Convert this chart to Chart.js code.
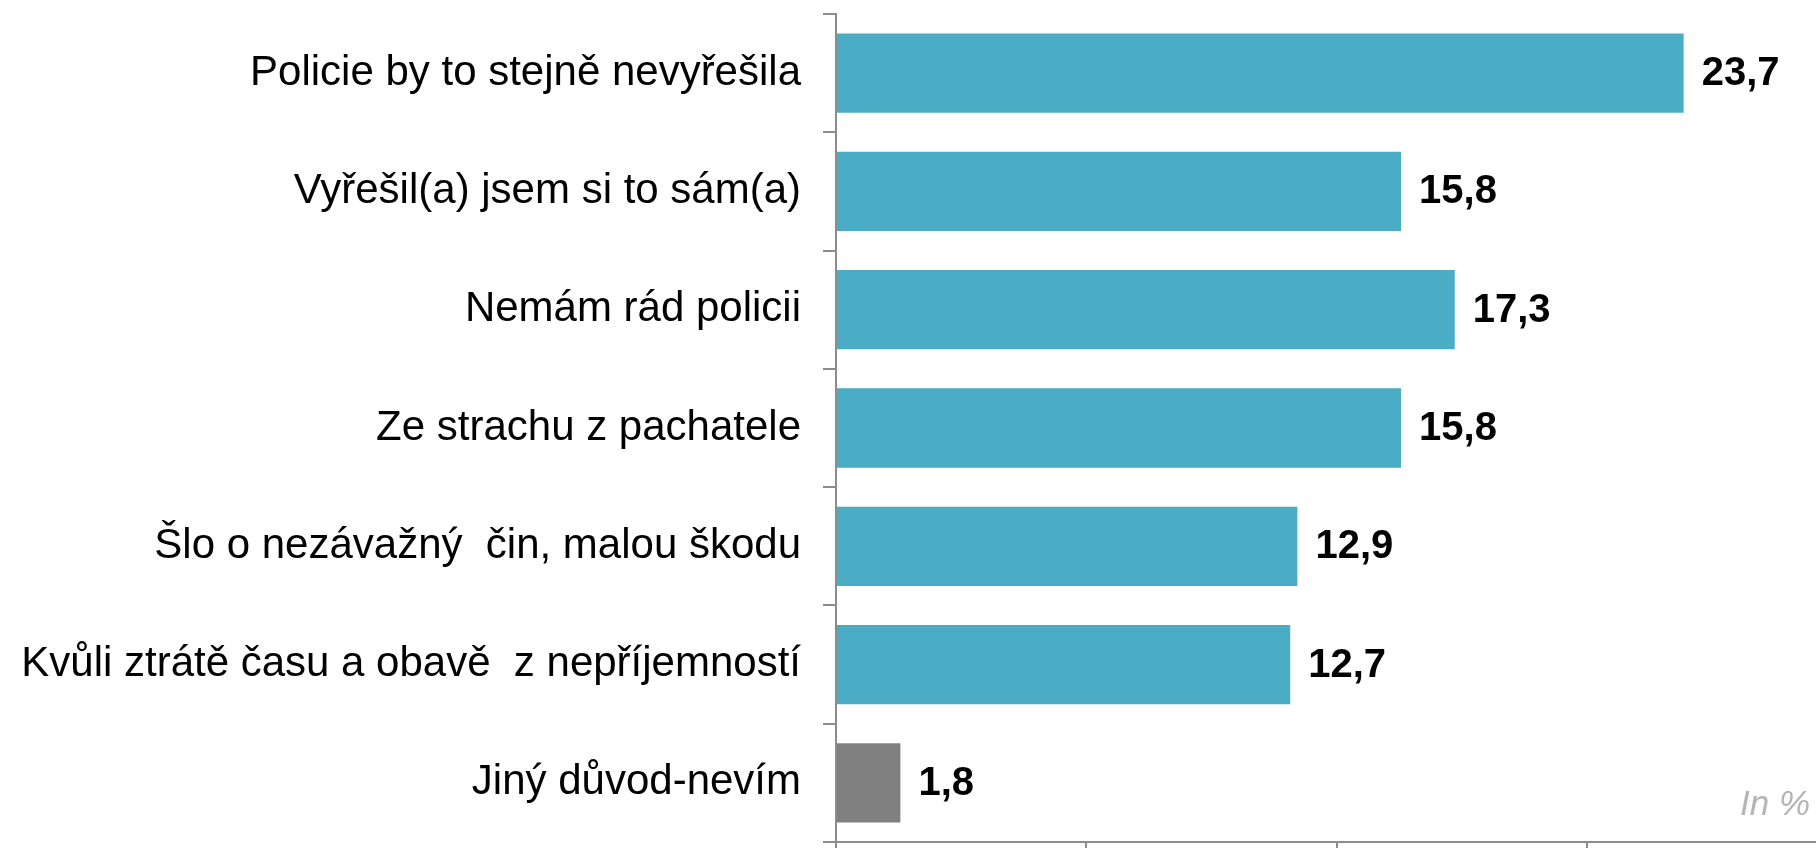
<!DOCTYPE html>
<html>
<head>
<meta charset="utf-8">
<script src="https://cdn.jsdelivr.net/npm/chart.js@4"></script>
<style>
  html, body { margin: 0; padding: 0; background: #fff; }
  #wrap { width: 1816px; height: 848px; position: relative; }
</style>
</head>
<body>
<div id="wrap"><canvas id="chart"></canvas></div>
<script>
const categories = [
    'Policie by to stejně nevyřešila',
    'Vyřešil(a) jsem si to sám(a)',
    'Nemám rád policii',
    'Ze strachu z pachatele',
    'Šlo o nezávažný  čin, malou škodu',
    'Kvůli ztrátě času a obavě  z nepříjemností',
    'Jiný důvod-nevím'
];
const values = [23.7, 15.8, 17.3, 15.8, 12.9, 12.7, 1.8];
const barColors = ['#4BACC6', '#4BACC6', '#4BACC6', '#4BACC6', '#4BACC6', '#4BACC6', '#808080'];
const xTicks = [0, 7, 14, 21];
const unitNote = 'In %';

// value labels next to bars + the "In %" note
const barLabels = {
    id: 'barLabels',
    afterDatasetsDraw(chart) {
        const ctx = chart.ctx;
        const meta = chart.getDatasetMeta(0);
        ctx.save();
        ctx.font = 'bold 40px "Liberation Sans", Arial, sans-serif';
        ctx.fillStyle = '#000';
        ctx.textBaseline = 'middle';
        ctx.textAlign = 'left';
        meta.data.forEach((bar, i) => {
            ctx.fillText(values[i].toFixed(1).replace('.', ','), bar.x + 18, bar.y + 1);
        });
        ctx.font = 'italic 35px "Liberation Sans", Arial, sans-serif';
        ctx.fillStyle = '#b4b4b4';
        ctx.textAlign = 'right';
        ctx.textBaseline = 'alphabetic';
        ctx.fillText(unitNote, 1810, 815);
        ctx.restore();
    }
};

new Chart(document.getElementById('chart'), {
    type: 'bar',
    data: {
        labels: categories,
        datasets: [{
            data: values,
            backgroundColor: barColors,
            borderWidth: 0,
            categoryPercentage: 1,
            barPercentage: 0.67
        }]
    },
    options: {
        indexAxis: 'y',
        responsive: true,
        maintainAspectRatio: false,
        animation: false,
        layout: { padding: { top: 14, right: 0, bottom: 0, left: 0 } },
        plugins: {
            legend: { display: false },
            tooltip: { enabled: false }
        },
        scales: {
            x: {
                min: 0,
                max: 27.4,
                afterBuildTicks: scale => { scale.ticks = xTicks.map(v => ({ value: v })); },
                afterFit: scale => {
                    scale.height = 6;
                    scale.paddingLeft = 0;
                    scale.paddingRight = 0;
                },
                ticks: { display: false },
                grid: {
                    drawOnChartArea: false,
                    drawTicks: true,
                    tickLength: 7,
                    color: '#8c8c8c',
                    lineWidth: 2
                },
                border: { color: '#8c8c8c', width: 2 }
            },
            y: {
                afterFit: scale => {
                    scale.width = 836;
                    scale.paddingTop = 0;
                    scale.paddingBottom = 0;
                },
                ticks: {
                    autoSkip: false,
                    color: '#000',
                    padding: 22,
                    font: { family: '"Liberation Sans", Arial, sans-serif', size: 42 }
                },
                grid: {
                    offset: true,
                    drawOnChartArea: false,
                    drawTicks: true,
                    tickLength: 13,
                    color: '#8c8c8c',
                    lineWidth: 2
                },
                border: { color: '#8c8c8c', width: 2 }
            }
        }
    },
    plugins: [barLabels]
});
</script>
</body>
</html>
